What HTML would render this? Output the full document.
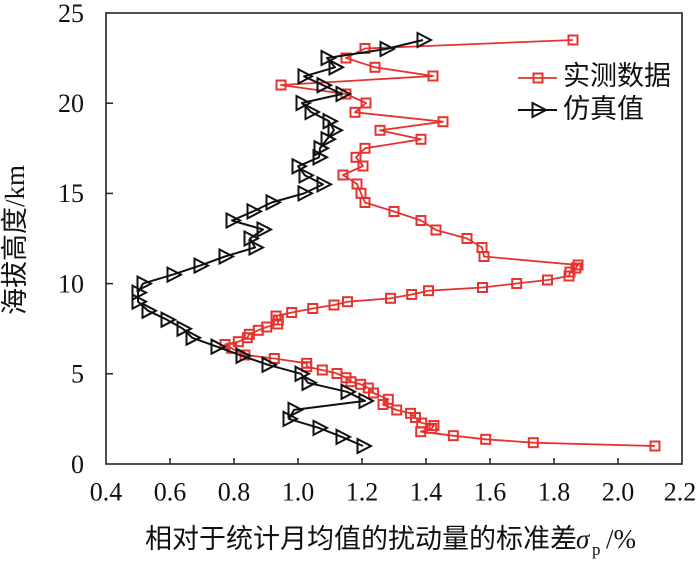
<!DOCTYPE html>
<html>
<head>
<meta charset="utf-8">
<style>
html,body{margin:0;padding:0;background:#fff;}
svg{display:block;}
.t{font-family:"Liberation Serif",serif;font-size:26px;fill:#111;}
.c{font-family:"Liberation Serif","Noto Sans CJK SC",sans-serif;font-size:27px;fill:#111;}
</style>
</head>
<body>
<svg width="700" height="568" viewBox="0 0 700 568" xmlns="http://www.w3.org/2000/svg">
<defs>
  <rect id="sq" x="-4.5" y="-4.5" width="9" height="9" fill="none" stroke="#e5342f" stroke-width="2"/>
  <path id="tri" d="M-5.5,-7 L-5.5,7 L8,0 Z" fill="none" stroke="#111" stroke-width="2" stroke-linejoin="miter"/>
</defs>

<!-- frame -->
<rect x="106" y="13" width="576" height="451" fill="none" stroke="#222" stroke-width="1.6"/>

<!-- y ticks -->
<g stroke="#222" stroke-width="1.5">
  <line x1="106" y1="103.2" x2="113" y2="103.2"/>
  <line x1="106" y1="193.4" x2="113" y2="193.4"/>
  <line x1="106" y1="283.6" x2="113" y2="283.6"/>
  <line x1="106" y1="373.8" x2="113" y2="373.8"/>
  <!-- x ticks -->
  <line x1="170" y1="464" x2="170" y2="458"/>
  <line x1="234" y1="464" x2="234" y2="458"/>
  <line x1="298" y1="464" x2="298" y2="458"/>
  <line x1="362" y1="464" x2="362" y2="458"/>
  <line x1="426" y1="464" x2="426" y2="458"/>
  <line x1="490" y1="464" x2="490" y2="458"/>
  <line x1="554" y1="464" x2="554" y2="458"/>
  <line x1="618" y1="464" x2="618" y2="458"/>
</g>

<!-- y tick labels -->
<g class="t" text-anchor="end">
  <text x="84" y="22">25</text>
  <text x="84" y="112">20</text>
  <text x="84" y="202">15</text>
  <text x="84" y="292.5">10</text>
  <text x="84" y="382.5">5</text>
  <text x="84" y="473">0</text>
</g>

<!-- x tick labels -->
<g class="t" text-anchor="middle">
  <text x="106" y="500.7">0.4</text>
  <text x="170" y="500.7">0.6</text>
  <text x="234" y="500.7">0.8</text>
  <text x="298" y="500.7">1.0</text>
  <text x="362" y="500.7">1.2</text>
  <text x="426" y="500.7">1.4</text>
  <text x="490" y="500.7">1.6</text>
  <text x="554" y="500.7">1.8</text>
  <text x="618" y="500.7">2.0</text>
  <text x="680" y="500.7">2.2</text>
</g>

<!-- axis titles -->
<text class="c" transform="translate(24,240) rotate(-90)" text-anchor="middle">海拔高度/km</text>
<text class="c" x="145" y="548">相对于统计月均值的扰动量的标准差</text>
<text x="576" y="548" style="font-family:'Liberation Serif',serif;font-style:italic;font-size:27px;fill:#111;">σ</text>
<text x="592" y="555" style="font-family:'Liberation Serif',serif;font-size:17px;fill:#111;">p</text>
<text x="606" y="548" style="font-family:'Liberation Serif',serif;font-size:27px;fill:#111;">/%</text>

<!-- red series -->
<polyline fill="none" stroke="#e5342f" stroke-width="1.8" stroke-linejoin="round" points="
573,40 365,48.5 346,58 375,67.3 433,76 281,85 346,94 366,103 355,112.3 443,121.7 380,130.3 421,139.3 365,148.3 356,157.3 363,166 343,175 357,184 361,193.3 365,202.5 394,211.5 421,220.5 436,230 467,238.5 482,247.5 484,256.5 578,265 576,268 570,272 569,276 547.5,280 516.7,283.5 482.5,287.5 428.5,290.7 411.7,294.5 390.5,298.3 347.5,301.7 334,305 312.7,308.5 291.7,312.5 276,316 278.3,320 277.7,324 266.7,327 258.3,330.3 249.3,334.3 247.3,337.7 238.3,341.7 225,344.5 231.7,348.3 245,355 274.3,358.5 306.7,363.3 306.7,366.7 322.3,370 337,373.5 346,377.7 351,381.7 360.7,384.3 368.3,388 373.5,393 388.3,399.3 383,404.5 396.7,410 410.5,413.3 415.5,417.5 421.7,423 434,425.5 431.7,428.3 420.7,431.7 453.3,435.7 485.7,439.3 533.3,442.7 655,446"/>
<g>
<use href="#sq" x="573" y="40"/><use href="#sq" x="365" y="48.5"/><use href="#sq" x="346" y="58"/><use href="#sq" x="375" y="67.3"/><use href="#sq" x="433" y="76"/><use href="#sq" x="281" y="85"/><use href="#sq" x="346" y="94"/><use href="#sq" x="366" y="103"/><use href="#sq" x="355" y="112.3"/><use href="#sq" x="443" y="121.7"/><use href="#sq" x="380" y="130.3"/><use href="#sq" x="421" y="139.3"/><use href="#sq" x="365" y="148.3"/><use href="#sq" x="356" y="157.3"/><use href="#sq" x="363" y="166"/><use href="#sq" x="343" y="175"/><use href="#sq" x="357" y="184"/><use href="#sq" x="361" y="193.3"/><use href="#sq" x="365" y="202.5"/><use href="#sq" x="394" y="211.5"/><use href="#sq" x="421" y="220.5"/><use href="#sq" x="436" y="230"/><use href="#sq" x="467" y="238.5"/><use href="#sq" x="482" y="247.5"/><use href="#sq" x="484" y="256.5"/><use href="#sq" x="578" y="265"/><use href="#sq" x="576" y="268"/><use href="#sq" x="570" y="272"/><use href="#sq" x="569" y="276"/><use href="#sq" x="547.5" y="280"/><use href="#sq" x="516.7" y="283.5"/><use href="#sq" x="482.5" y="287.5"/><use href="#sq" x="428.5" y="290.7"/><use href="#sq" x="411.7" y="294.5"/><use href="#sq" x="390.5" y="298.3"/><use href="#sq" x="347.5" y="301.7"/><use href="#sq" x="334" y="305"/><use href="#sq" x="312.7" y="308.5"/><use href="#sq" x="291.7" y="312.5"/><use href="#sq" x="276" y="316"/><use href="#sq" x="278.3" y="320"/><use href="#sq" x="277.7" y="324"/><use href="#sq" x="266.7" y="327"/><use href="#sq" x="258.3" y="330.3"/><use href="#sq" x="249.3" y="334.3"/><use href="#sq" x="247.3" y="337.7"/><use href="#sq" x="238.3" y="341.7"/><use href="#sq" x="225" y="344.5"/><use href="#sq" x="231.7" y="348.3"/><use href="#sq" x="245" y="355"/><use href="#sq" x="274.3" y="358.5"/><use href="#sq" x="306.7" y="363.3"/><use href="#sq" x="306.7" y="366.7"/><use href="#sq" x="322.3" y="370"/><use href="#sq" x="337" y="373.5"/><use href="#sq" x="346" y="377.7"/><use href="#sq" x="351" y="381.7"/><use href="#sq" x="360.7" y="384.3"/><use href="#sq" x="368.3" y="388"/><use href="#sq" x="373.5" y="393"/><use href="#sq" x="388.3" y="399.3"/><use href="#sq" x="383" y="404.5"/><use href="#sq" x="396.7" y="410"/><use href="#sq" x="410.5" y="413.3"/><use href="#sq" x="415.5" y="417.5"/><use href="#sq" x="421.7" y="423"/><use href="#sq" x="434" y="425.5"/><use href="#sq" x="431.7" y="428.3"/><use href="#sq" x="420.7" y="431.7"/><use href="#sq" x="453.3" y="435.7"/><use href="#sq" x="485.7" y="439.3"/><use href="#sq" x="533.3" y="442.7"/><use href="#sq" x="655" y="446"/>
</g>

<!-- black series -->
<polyline fill="none" stroke="#111" stroke-width="2" stroke-linejoin="round" points="
423,40 386,49 327,58 335,67.3 304,76.4 323,85.2 342,94 302,103 311,112 329,121.2 334,130.3 327,139.3 320,148.3 319,157.3 298,166.3 305,175.4 323,184.4 304,193.4 272,202.4 253,211.4 232,220.5 263,229.5 250,238.5 255,247.5 225,256.5 200,265.6 173,274.6 143,283.6 138,292.6 138,301.6 148,310.7 167,319.7 183,328.7 192,337.7 217,346.7 242,355.8 268,364.8 301,373.8 308,382.8 347,391.8 365,400.9 294,409.9 289,418.9 319,427.9 342,436.9 363,446"/>
<g>
<use href="#tri" x="423" y="40"/><use href="#tri" x="386" y="49"/><use href="#tri" x="327" y="58"/><use href="#tri" x="335" y="67.3"/><use href="#tri" x="304" y="76.4"/><use href="#tri" x="323" y="85.2"/><use href="#tri" x="342" y="94"/><use href="#tri" x="302" y="103"/><use href="#tri" x="311" y="112"/><use href="#tri" x="329" y="121.2"/><use href="#tri" x="334" y="130.3"/><use href="#tri" x="327" y="139.3"/><use href="#tri" x="320" y="148.3"/><use href="#tri" x="319" y="157.3"/><use href="#tri" x="298" y="166.3"/><use href="#tri" x="305" y="175.4"/><use href="#tri" x="323" y="184.4"/><use href="#tri" x="304" y="193.4"/><use href="#tri" x="272" y="202.4"/><use href="#tri" x="253" y="211.4"/><use href="#tri" x="232" y="220.5"/><use href="#tri" x="263" y="229.5"/><use href="#tri" x="250" y="238.5"/><use href="#tri" x="255" y="247.5"/><use href="#tri" x="225" y="256.5"/><use href="#tri" x="200" y="265.6"/><use href="#tri" x="173" y="274.6"/><use href="#tri" x="143" y="283.6"/><use href="#tri" x="138" y="292.6"/><use href="#tri" x="138" y="301.6"/><use href="#tri" x="148" y="310.7"/><use href="#tri" x="167" y="319.7"/><use href="#tri" x="183" y="328.7"/><use href="#tri" x="192" y="337.7"/><use href="#tri" x="217" y="346.7"/><use href="#tri" x="242" y="355.8"/><use href="#tri" x="268" y="364.8"/><use href="#tri" x="301" y="373.8"/><use href="#tri" x="308" y="382.8"/><use href="#tri" x="347" y="391.8"/><use href="#tri" x="365" y="400.9"/><use href="#tri" x="294" y="409.9"/><use href="#tri" x="289" y="418.9"/><use href="#tri" x="319" y="427.9"/><use href="#tri" x="342" y="436.9"/><use href="#tri" x="363" y="446"/>
</g>

<!-- legend -->
<line x1="518" y1="78" x2="557" y2="78" stroke="#e5342f" stroke-width="1.8"/>
<use href="#sq" x="538" y="78"/>
<text class="c" x="563" y="85">实测数据</text>
<line x1="518" y1="110" x2="557" y2="110" stroke="#111" stroke-width="2"/>
<use href="#tri" x="538" y="110"/>
<text class="c" x="563" y="118">仿真值</text>
</svg>
</body>
</html>
